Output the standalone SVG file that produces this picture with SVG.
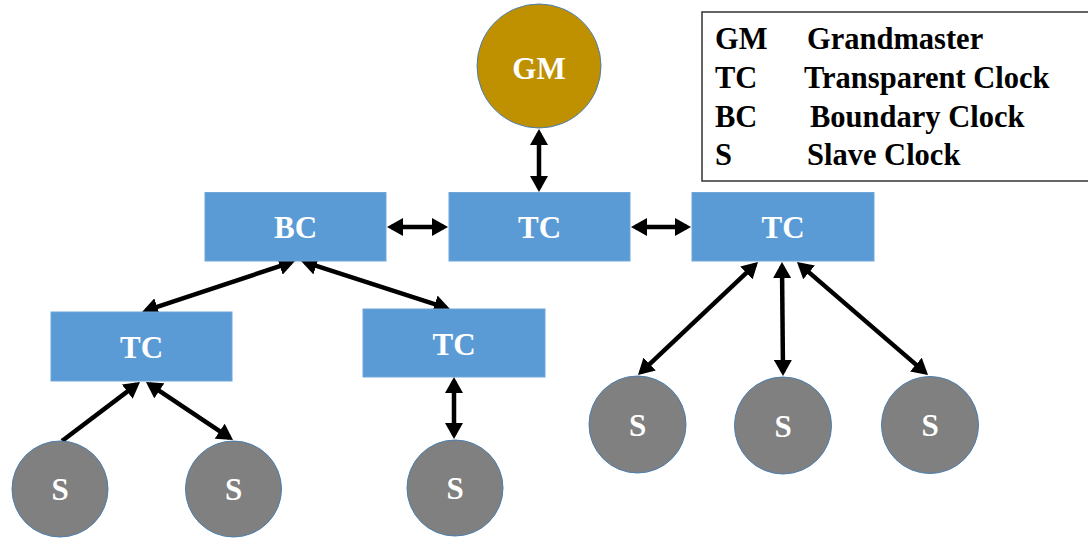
<svg xmlns="http://www.w3.org/2000/svg" width="1088" height="538" viewBox="0 0 1088 538">
<defs>
<style>
.box{fill:#5B9BD5;stroke:#6FA6DA;stroke-width:1}
.slave{fill:#808080;stroke:#4A7EB0;stroke-width:1}
.gm{fill:#BF9000;stroke:#4A7EB0;stroke-width:1}
.lbl{font-family:"Liberation Serif","Times New Roman",serif;font-weight:bold;font-size:31px;fill:#FFFFFF;text-anchor:middle}
.leg{font-family:"Liberation Serif","Times New Roman",serif;font-weight:bold;font-size:30.5px;fill:#000000}
.conn line{stroke:#000000;stroke-width:4.5;fill:none}
</style>
<marker id="ah" viewBox="0 0 16 18" refX="12" refY="9" markerWidth="16" markerHeight="18" markerUnits="userSpaceOnUse" orient="auto-start-reverse">
<path d="M0,0 L16,9 L0,18 z" fill="#000000"/>
</marker>
</defs>
<rect width="1088" height="538" fill="#FFFFFF"/>

<g id="legend">
<rect x="702" y="12" width="392" height="169" fill="#FFFFFF" stroke="#333333" stroke-width="1.5"/>
<text class="leg" x="715" y="49">GM</text>
<text class="leg" x="807" y="49">Grandmaster</text>
<text class="leg" x="715" y="88">TC</text>
<text class="leg" x="804" y="88">Transparent Clock</text>
<text class="leg" x="715" y="127">BC</text>
<text class="leg" x="810" y="127">Boundary Clock</text>
<text class="leg" x="715" y="165">S</text>
<text class="leg" x="807" y="165">Slave Clock</text>
</g>

<g class="conn" id="connectors">
<line x1="539" y1="133" x2="539" y2="188" marker-start="url(#ah)" marker-end="url(#ah)"/>
<line x1="391" y1="227" x2="444" y2="227" marker-start="url(#ah)" marker-end="url(#ah)"/>
<line x1="635" y1="227" x2="687" y2="227" marker-start="url(#ah)" marker-end="url(#ah)"/>
<line x1="291.2" y1="262.3" x2="145.8" y2="310.7" marker-start="url(#ah)" marker-end="url(#ah)"/>
<line x1="304.8" y1="262.2" x2="446.2" y2="307.8" marker-start="url(#ah)" marker-end="url(#ah)"/>
<line x1="62" y1="441" x2="136.8" y2="384.4" marker-end="url(#ah)"/>
<line x1="149.3" y1="384.2" x2="229.7" y2="437.8" marker-start="url(#ah)" marker-end="url(#ah)"/>
<line x1="454" y1="381" x2="454" y2="435" marker-start="url(#ah)" marker-end="url(#ah)"/>
<line x1="755.1" y1="264.7" x2="640.9" y2="372.3" marker-start="url(#ah)" marker-end="url(#ah)"/>
<line x1="782" y1="266" x2="783" y2="372" marker-start="url(#ah)" marker-end="url(#ah)"/>
<line x1="800" y1="264.6" x2="925" y2="372.4" marker-start="url(#ah)" marker-end="url(#ah)"/>
</g>

<g id="gm">
<circle class="gm" cx="539" cy="66" r="62"/>
<text class="lbl" x="539" y="79">GM</text>
</g>

<g id="bc">
<rect class="box" x="205" y="192.5" width="181" height="68.5"/>
<text class="lbl" x="295.5" y="238">BC</text>
</g>
<g id="tc-top">
<rect class="box" x="449" y="192.5" width="181" height="68.5"/>
<text class="lbl" x="539.5" y="238">TC</text>
</g>
<g id="tc-right">
<rect class="box" x="692" y="192.5" width="182" height="68.5"/>
<text class="lbl" x="783" y="238">TC</text>
</g>
<g id="tc-left">
<rect class="box" x="51" y="312" width="181" height="69"/>
<text class="lbl" x="141.5" y="358">TC</text>
</g>
<g id="tc-mid">
<rect class="box" x="363" y="309" width="182" height="68"/>
<text class="lbl" x="454" y="354.5">TC</text>
</g>

<g id="s1">
<circle class="slave" cx="60" cy="489" r="48"/>
<text class="lbl" x="60" y="500">S</text>
</g>
<g id="s2">
<circle class="slave" cx="233.5" cy="489" r="48"/>
<text class="lbl" x="233.5" y="500">S</text>
</g>
<g id="s3">
<circle class="slave" cx="455" cy="488" r="48"/>
<text class="lbl" x="455" y="499">S</text>
</g>
<g id="s4">
<circle class="slave" cx="637.5" cy="424.5" r="48.5"/>
<text class="lbl" x="637.5" y="435.5">S</text>
</g>
<g id="s5">
<circle class="slave" cx="783" cy="425.5" r="48.5"/>
<text class="lbl" x="783" y="436.5">S</text>
</g>
<g id="s6">
<circle class="slave" cx="930" cy="425" r="48.5"/>
<text class="lbl" x="930" y="436">S</text>
</g>
</svg>
